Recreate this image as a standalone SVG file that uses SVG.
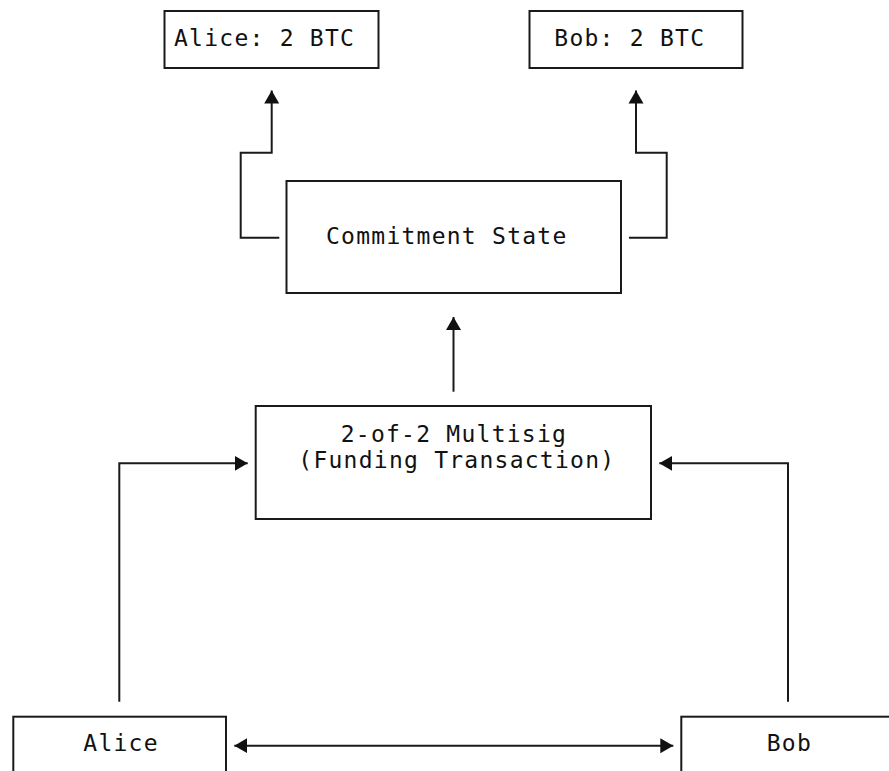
<svg xmlns="http://www.w3.org/2000/svg" width="889" height="771" viewBox="0 0 889 771">
  <style>
    .box { fill: #ffffff; stroke: #1a1a1a; stroke-width: 2; }
    .lbl { font-family: "DejaVu Sans Mono", "Liberation Mono", monospace; font-size: 23px; letter-spacing: 1.25px; fill: #111111; }
    .conn { fill: none; stroke: #1a1a1a; stroke-width: 2; }
  </style>
  <defs>
    <marker id="arrow" markerUnits="userSpaceOnUse" markerWidth="14" markerHeight="16" viewBox="0 0 14 16" refX="13" refY="8" orient="auto-start-reverse">
      <path d="M0,0.5 L13,8 L0,15.5 z" fill="#111111"/>
    </marker>
  </defs>
  <rect width="889" height="771" fill="#ffffff"/>

  <g id="connectors">
    <path class="conn" d="M279.3 237.7 H240.7 V152.7 H271.7 V90.5" marker-end="url(#arrow)"/>
    <path class="conn" d="M629 237.7 H666.7 V152.7 H636 V90.5" marker-end="url(#arrow)"/>
    <path class="conn" d="M453.5 391.7 V317" marker-end="url(#arrow)"/>
    <path class="conn" d="M119.3 701.7 V463.3 H247.7" marker-end="url(#arrow)"/>
    <path class="conn" d="M788 701.7 V463.3 H659.3" marker-end="url(#arrow)"/>
    <path class="conn" d="M234.3 745.7 H673.3" marker-start="url(#arrow)" marker-end="url(#arrow)"/>
  </g>

  <g id="node-alice-btc">
    <rect class="box" x="164.5" y="11" width="214" height="57"/>
    <text class="lbl" x="174" y="46">Alice: 2 BTC</text>
  </g>
  <g id="node-bob-btc">
    <rect class="box" x="529.5" y="11" width="213" height="57"/>
    <text class="lbl" x="554.3" y="46">Bob: 2 BTC</text>
  </g>
  <g id="node-commitment">
    <rect class="box" x="286.5" y="181" width="334.5" height="112"/>
    <text class="lbl" x="326" y="244">Commitment State</text>
  </g>
  <g id="node-funding">
    <rect class="box" x="255.7" y="406" width="395.3" height="113"/>
    <text class="lbl" x="340.7" y="441.7">2-of-2 Multisig</text>
    <text class="lbl" x="298.3" y="468.3">(Funding Transaction)</text>
  </g>
  <g id="node-alice">
    <rect class="box" x="13.3" y="716.7" width="212.7" height="80"/>
    <text class="lbl" x="83.3" y="751">Alice</text>
  </g>
  <g id="node-bob">
    <rect class="box" x="681.3" y="716.7" width="250" height="80"/>
    <text class="lbl" x="766.7" y="751">Bob</text>
  </g>
</svg>
